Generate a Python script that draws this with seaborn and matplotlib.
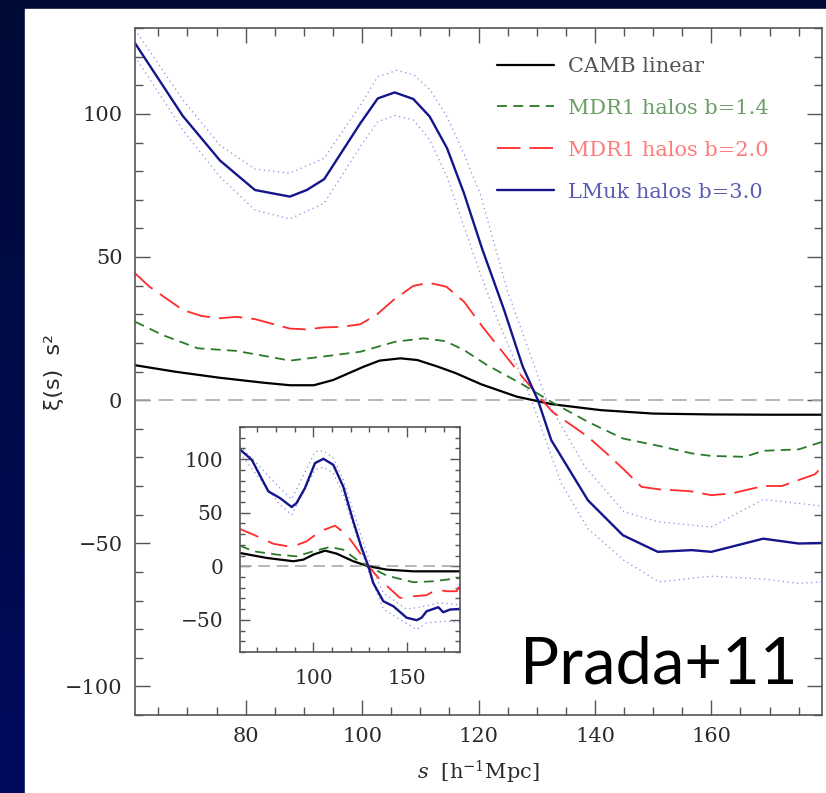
import numpy as np
import seaborn as sns
import matplotlib.pyplot as plt
from matplotlib.ticker import MultipleLocator

# main panel: xi(s) s^2 against s
camb_s = [61, 68, 75.6, 83, 87.6, 91.7, 95, 100.3, 103, 106.6, 109.5, 113, 116,
          120.5, 126.6, 132.5, 141, 150, 160, 170, 179]
camb_xi = [12.2, 9.9, 7.8, 6.1, 5.2, 5.2, 7, 11.7, 13.8, 14.6, 14, 11.7, 9.5,
           5.5, 1.2, -1.4, -3.5, -4.7, -5, -5.1, -5.1]

mdr14_s = [61, 65.8, 71.8, 78.4, 84.7, 87.6, 94, 99.7, 105.7, 110.6, 114.3, 117.5,
           121.5, 127.3, 132.5, 138.8, 144.8, 151, 156.6, 160, 165.8, 168.9, 175, 179]
mdr14_xi = [27.4, 22.7, 18.1, 17.2, 14.9, 13.8, 15.4, 16.9, 20.4, 21.6, 20.6, 17.5,
            12.2, 5.8, -0.6, -7.6, -13.4, -16, -18.6, -19.5, -19.8, -17.7, -17.2, -14.6]

mdr20_s = [61, 63.5, 69.2, 72.4, 75.6, 78.4, 81.6, 84.7, 87.6, 90.5, 93.4, 96.5,
           99.7, 102.6, 105.4, 108.8, 111.5, 114.5, 117.5, 120.7, 124.1, 127.3,
           130.2, 132.7, 138.8, 142, 145.1, 148, 151.1, 156.3, 160, 163.5, 168.9,
           172.1, 177.8, 179]
mdr20_xi = [44.3, 39.6, 31.5, 29.4, 28.6, 29.1, 28.3, 26.6, 25, 24.7, 25.4, 25.6,
            26.5, 30, 35, 39.9, 41, 39.6, 34.4, 25.6, 16.9, 8.7,
            1.7, -4.1, -12.8, -18.6, -24.5, -30.3, -31.2, -31.8, -33.2, -32.6, -30,
            -30, -25.9, -23.3]

lmuk_s = [61, 69.2, 75.6, 81.6, 87.6, 90.5, 93.5, 99.7, 102.7, 105.6, 108.8, 111.6,
          114.6, 117.5, 120.6, 124.4, 127.6, 130.2, 132.5, 138.8, 144.8, 150.8,
          156.6, 160, 168.9, 175, 179]
lmuk_xi = [124.7, 99.3, 83.7, 73.4, 71.1, 73.4, 77.2, 96.7, 105.4, 107.5, 105.2, 99.1,
           88, 72.3, 53, 31.5, 11.7, 0, -14, -35, -47.2, -53,
           -52.4, -53, -48.4, -50.1, -49.9]

lmuk_hi_s = [61, 69.2, 75.6, 81.6, 87.6, 93.5, 99.7, 102.7, 106, 108.9, 111.7, 114.6,
             117.5, 120.3, 125, 131.7, 138.3, 145, 150.8, 160, 168.9, 179]
lmuk_hi_xi = [129.4, 105, 89, 80.7, 79.3, 84.5, 103, 113, 115.2, 113.6, 108.4, 99,
              86, 72, 38, 0, -23.3, -39, -42.5, -44.3, -34.7, -37]
lmuk_lo_s = [61, 69.2, 75.6, 81.6, 87.6, 93.5, 99.7, 102.7, 105.6, 108.8, 111.6, 114.6,
             117.5, 120.3, 123.3, 129.1, 134.2, 138.8, 145, 151, 160, 168.9, 175, 179]
lmuk_lo_xi = [120, 94.4, 78, 66.4, 63.3, 68.8, 88.6, 97.3, 99.4, 97.9, 91, 78,
              60.6, 44.3, 28, 0, -29, -44.9, -56, -63.5, -61.5, -62.5, -64, -63.5]

# inset panel
in_camb_s = [60.7, 75, 89.3, 94.6, 100, 106.3, 112.5, 121.4, 129.5, 139.3, 153.6, 178.6]
in_camb_xi = [12.4, 7.8, 4.7, 6.2, 10.9, 14.6, 11.8, 4.7, 0, -3.1, -4.7, -4.7]
in_mdr14_s = [60.7, 67.9, 80.4, 91, 100, 108.9, 116, 123.2, 129.5, 139.3, 153.6, 164.3, 178.6]
in_mdr14_xi = [19.3, 14, 10.9, 9.3, 14, 18, 15.5, 6.2, 0, -8.7, -14.9, -14, -10.9]
in_mdr20_s = [60.7, 67.9, 78.6, 88.4, 96.4, 103.6, 111.6, 117.9, 125, 129.5, 135.7,
              146.4, 153.6, 160.7, 166, 171.4, 176.8, 178.6]
in_mdr20_xi = [34.8, 29.5, 21, 18, 23.3, 32.6, 37.9, 29.5, 12.4, 0, -12.4,
               -29.5, -28, -27, -21.7, -23.3, -23.3, -17.7]
in_lmuk_s = [60.7, 67, 75.9, 82.1, 88.4, 91, 95.5, 100.9, 105.4, 110.7, 116, 121.4,
             125.9, 129.5, 132.1, 137.5, 142.9, 150, 155.4, 158, 160.7, 167, 169.6,
             173.2, 178.6]
in_lmuk_xi = [109, 99.4, 69.9, 63.7, 55.3, 59, 73, 96.3, 100.3, 94.7, 74.5, 42,
              17, 0, -15.5, -32.6, -37.3, -48, -50.3, -48, -42, -38.2, -42.9,
              -40.4, -39.8]
in_lmuk_hi_s = [60.7, 82.1, 88.4, 100.9, 105.4, 110.7, 116, 130.4, 137.5, 150, 160.7, 167, 178.6]
in_lmuk_hi_xi = [112.4, 73, 62.7, 107, 108, 101, 80.7, 3, -25, -40, -37, -34, -36]
in_lmuk_lo_s = [60.7, 82.1, 88.4, 100.9, 105.4, 110.7, 116, 128.6, 137.5, 150, 155.4,
                160.7, 171.4, 178.6]
in_lmuk_lo_xi = [105.6, 57.5, 48, 90, 92.5, 87, 66.8, 0, -40, -53.4, -59,
                 -52.8, -51.2, -52]

labels = ["CAMB linear", "MDR1 halos b=1.4", "MDR1 halos b=2.0", "LMuk halos b=3.0"]
label_colors = ["#555555", "#6a9e66", "#ff7b7b", "#5c5cb4"]

sns.set_style("ticks")
plt.rcParams["font.family"] = ["DejaVu Serif"]
plt.rcParams["mathtext.fontset"] = "dejavuserif"

W, H = 826, 793
fig = plt.figure(figsize=(W / 100, H / 100), dpi=100)

# dark blue slide background with white panel
bg = fig.add_axes([0, 0, 1, 1], zorder=-10)
grad = np.linspace(0, 1, 256).reshape(-1, 1)
bg.imshow(grad, aspect="auto", extent=[0, 1, 0, 1],
          cmap=sns.blend_palette(["#000a36", "#000b5e"], as_cmap=True))
bg.add_patch(plt.Rectangle((25 / W, 0), 1, 1 - 9 / H, color="white"))
bg.set_xlim(0, 1)
bg.set_ylim(0, 1)
bg.axis("off")

frame_col = "#555555"
tick_col = "#2a2a2a"


def style_axes(ax, major_len, minor_len, pad, size):
    for sp in ax.spines.values():
        sp.set_color(frame_col)
        sp.set_linewidth(1.2)
    ax.tick_params(which="both", direction="in", top=True, right=True,
                   color=frame_col, width=1.0, labelcolor=tick_col,
                   labelsize=size, pad=pad)
    ax.tick_params(which="major", length=major_len)
    ax.tick_params(which="minor", length=minor_len)
    ax.set_facecolor("white")


def draw_lines(ax, data, red_dash):
    (cs, cx), (gs, gx), (rs, rx), (bs, bx), (hs, hx), (ls_, lx) = data
    sns.lineplot(x=hs, y=hx, ax=ax, color="#8a8ae2", lw=0.9, ls=(0, (1, 2.8)))
    sns.lineplot(x=ls_, y=lx, ax=ax, color="#8a8ae2", lw=0.9, ls=(0, (1, 2.8)))
    sns.lineplot(x=cs, y=cx, ax=ax, color="black", lw=1.6, label=labels[0])
    sns.lineplot(x=gs, y=gx, ax=ax, color="#2b7a2b", lw=1.3,
                 ls=(0, (5.5, 3.5)), label=labels[1])
    sns.lineplot(x=rs, y=rx, ax=ax, color="#ff2a2a", lw=1.3,
                 ls=(0, red_dash), label=labels[2])
    sns.lineplot(x=bs, y=bx, ax=ax, color="#14148c", lw=1.7, label=labels[3])


ax = fig.add_axes([135 / W, 1 - 715 / H, 687 / W, 687 / H])
ax.axhline(0, color="#aaaaaa", lw=1.2, ls=(0, (9, 5)), zorder=1)
draw_lines(ax, [(camb_s, camb_xi), (mdr14_s, mdr14_xi), (mdr20_s, mdr20_xi),
                (lmuk_s, lmuk_xi), (lmuk_hi_s, lmuk_hi_xi), (lmuk_lo_s, lmuk_lo_xi)],
           (13, 5))
ax.set_xlim(61, 179)
ax.set_ylim(-110, 130)
ax.xaxis.set_major_locator(MultipleLocator(20))
ax.xaxis.set_minor_locator(MultipleLocator(5))
ax.yaxis.set_major_locator(MultipleLocator(50))
ax.yaxis.set_minor_locator(MultipleLocator(10))
style_axes(ax, 10.5, 5.5, 9, 15)
ax.set_xlabel(r"$s\ \ [\mathrm{h^{-1}Mpc}]$", fontsize=15, color=tick_col, labelpad=9)
ax.set_ylabel("ξ(s)  s²", fontsize=16, color=tick_col, family=["DejaVu Sans"])
ax.yaxis.set_label_coords(-0.103, 0.5)

leg = ax.legend(loc="upper left", bbox_to_anchor=(0.527, 0.958), frameon=False,
                fontsize=15, handlelength=2.75, handletextpad=0.65,
                labelspacing=1.1, borderpad=0, borderaxespad=0,
                labelcolor=label_colors)

fig.text(798 / W, 1 - 684 / H, "Prada+11", family=["Lato", "DejaVu Sans"],
         fontsize=47, ha="right", va="baseline", color="black")

# inset
axi = fig.add_axes([240 / W, 1 - 652 / H, 220 / W, 225 / H])
axi.axhline(0, color="#aaaaaa", lw=1.2, ls=(0, (7, 4)), zorder=1)
draw_lines(axi, [(in_camb_s, in_camb_xi), (in_mdr14_s, in_mdr14_xi),
                 (in_mdr20_s, in_mdr20_xi), (in_lmuk_s, in_lmuk_xi),
                 (in_lmuk_hi_s, in_lmuk_hi_xi), (in_lmuk_lo_s, in_lmuk_lo_xi)],
           (11, 6))
axi.legend().remove()
axi.set_xlim(60.7, 178.6)
axi.set_ylim(-80, 130)
axi.xaxis.set_major_locator(MultipleLocator(50))
axi.xaxis.set_minor_locator(MultipleLocator(10))
axi.yaxis.set_major_locator(MultipleLocator(50))
axi.yaxis.set_minor_locator(MultipleLocator(10))
style_axes(axi, 7, 3.5, 12, 14.5)
axi.set_xlabel("")
axi.set_ylabel("")

fig.savefig("out.png", dpi=100)
